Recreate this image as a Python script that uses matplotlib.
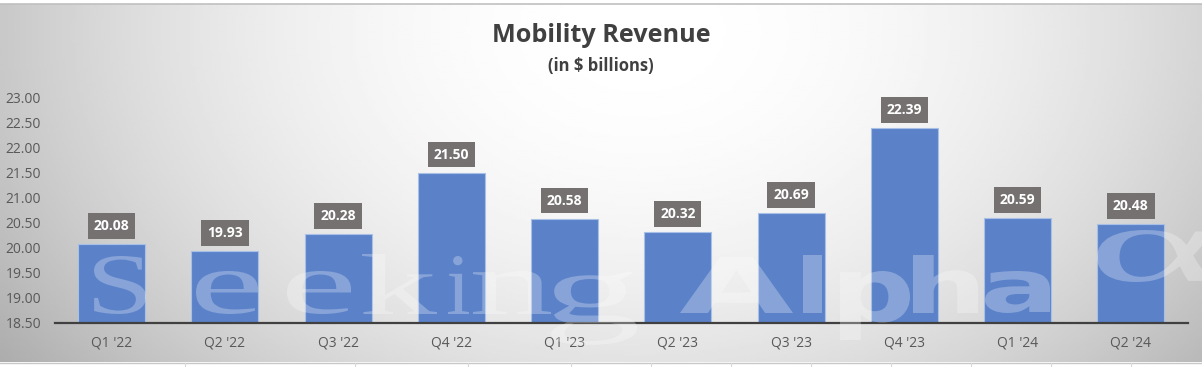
import numpy as np
import matplotlib
matplotlib.use("Agg")
import matplotlib.pyplot as plt
from matplotlib.textpath import TextPath
from matplotlib.font_manager import FontProperties
from matplotlib.patches import PathPatch
from matplotlib.path import Path

# Chart data
quarters = ["Q1 '22", "Q2 '22", "Q3 '22", "Q4 '22", "Q1 '23",
            "Q2 '23", "Q3 '23", "Q4 '23", "Q1 '24", "Q2 '24"]
revenue = [20.08, 19.93, 20.28, 21.50, 20.58, 20.32, 20.69, 22.39, 20.59, 20.48]
y_ticks = [18.5, 19.0, 19.5, 20.0, 20.5, 21.0, 21.5, 22.0, 22.5, 23.0]

W, H = 1202, 367
fig = plt.figure(figsize=(W / 100, H / 100), dpi=100)
fig.patch.set_facecolor("white")

# gradient background of the chart area (y 4..362 px)
bg = fig.add_axes([0, 5 / H, 1, (362 - 4) / H])
bg.set_axis_off()
xx, yy = np.meshgrid(np.linspace(0, W, 400), np.linspace(4, 362, 150))
r2 = ((xx - 640) / 720) ** 2 + ((yy - 30) / 520) ** 2
shade = np.clip(1.0 - 0.27 * r2, 0, 1)
bg.imshow(shade, cmap="gray", vmin=0, vmax=1, aspect="auto",
          extent=[0, 1, 0, 1], origin="upper")
bg.set_xlim(0, 1)
bg.set_ylim(0, 1)

# border lines and spreadsheet grid under the chart
fig.add_artist(plt.Line2D([0, 1], [1 - 3.5 / H] * 2, color="#c0c0c0", lw=1.2))
fig.add_artist(plt.Line2D([0, 1], [1 - 362.5 / H] * 2, color="#c8c8c8", lw=1.0))
for gx in [185, 355, 468, 571, 651, 731, 811, 891, 971, 1051, 1131]:
    fig.add_artist(plt.Line2D([gx / W] * 2, [0, 1 - 363 / H], color="#d9d9d9", lw=0.8))

font = "Open Sans"

# main axes
ax = fig.add_axes([55 / W, 1 - 323 / H, (1187.5 - 55) / W, (323 - 97.5) / H])
ax.patch.set_alpha(0)
x = np.arange(len(quarters))
ax.bar(x, [v - 18.5 for v in revenue], bottom=18.5, width=0.59,
       color="#5b82c9", edgecolor="#a8bfe6", linewidth=0.8, zorder=2)
ax.set_xlim(-0.5, len(quarters) - 0.5)
ax.set_ylim(18.5, 23.0)
ax.set_yticks(y_ticks)
ax.set_yticklabels([f"{t:.2f}" for t in y_ticks], fontsize=10, color="#595959",
                   fontfamily=font)
ax.set_xticks(x)
ax.set_xticklabels(quarters, fontsize=10, color="#595959", fontfamily=font)
ax.tick_params(axis="y", length=0, pad=10)
ax.tick_params(axis="x", length=0, pad=9)
for s in ["top", "right", "left"]:
    ax.spines[s].set_visible(False)
ax.spines["bottom"].set_color("#404040")
ax.spines["bottom"].set_linewidth(1.6)
ax.spines["bottom"].set_zorder(3)

# value labels
for xi, v in zip(x, revenue):
    ax.annotate(f"{v:.2f}", (xi, v), xytext=(0, 8), textcoords="offset points",
                ha="center", va="bottom", fontsize=10, fontweight="bold",
                color="white", fontfamily=font, zorder=5,
                bbox=dict(boxstyle="square,pad=0.42", fc="#767171", ec="none"))

# titles
fig.text(0.5, 1 - 35 / H, "Mobility Revenue", ha="center", va="center",
         fontsize=18.2, fontweight="bold", color="#404040", fontfamily=font)
fig.text(0.5, 1 - 66 / H, "(in $ billions)", ha="center", va="center",
         fontsize=12, fontweight="bold", color="#404040", fontfamily=font)

# watermark, each glyph fitted to its box (pixels, y down)
wm = fig.add_axes([0, 0, 1, 1], zorder=5)
wm.set_axis_off()
wm.set_xlim(0, W)
wm.set_ylim(H, 0)
wm.patch.set_alpha(0)

serif = FontProperties(family="Liberation Serif")
sans = FontProperties(family="DejaVu Sans", weight="bold")
glyphs = [
    ("S", serif, 94, 146, 256, 314), ("e", serif, 196, 258, 271, 314),
    ("e", serif, 287, 351, 271, 314), ("k", serif, 362, 437, 254, 314),
    ("i", serif, 448, 469, 256, 314), ("n", serif, 473, 551, 271, 314),
    ("g", serif, 551, 637, 271, 345),
    ("A", sans, 680, 793, 257, 313), ("l", sans, 803, 822, 255, 313),
    ("p", sans, 840, 910, 271, 340), ("h", sans, 913, 978, 255, 313),
    ("a", sans, 985, 1050, 271, 313), ("α", serif, 1097, 1215, 230, 282),
]
for ch, fp, x0, x1, yt, yb in glyphs:
    tp = TextPath((0, 0), ch, size=100, prop=fp)
    ext = tp.get_extents()
    v = tp.vertices.copy()
    v[:, 0] = x0 + (v[:, 0] - ext.x0) / ext.width * (x1 - x0)
    v[:, 1] = yb - (v[:, 1] - ext.y0) / ext.height * (yb - yt)
    wm.add_patch(PathPatch(Path(v, tp.codes), fc="white", ec="none", alpha=0.27))

fig.savefig("out.png", dpi=100)
